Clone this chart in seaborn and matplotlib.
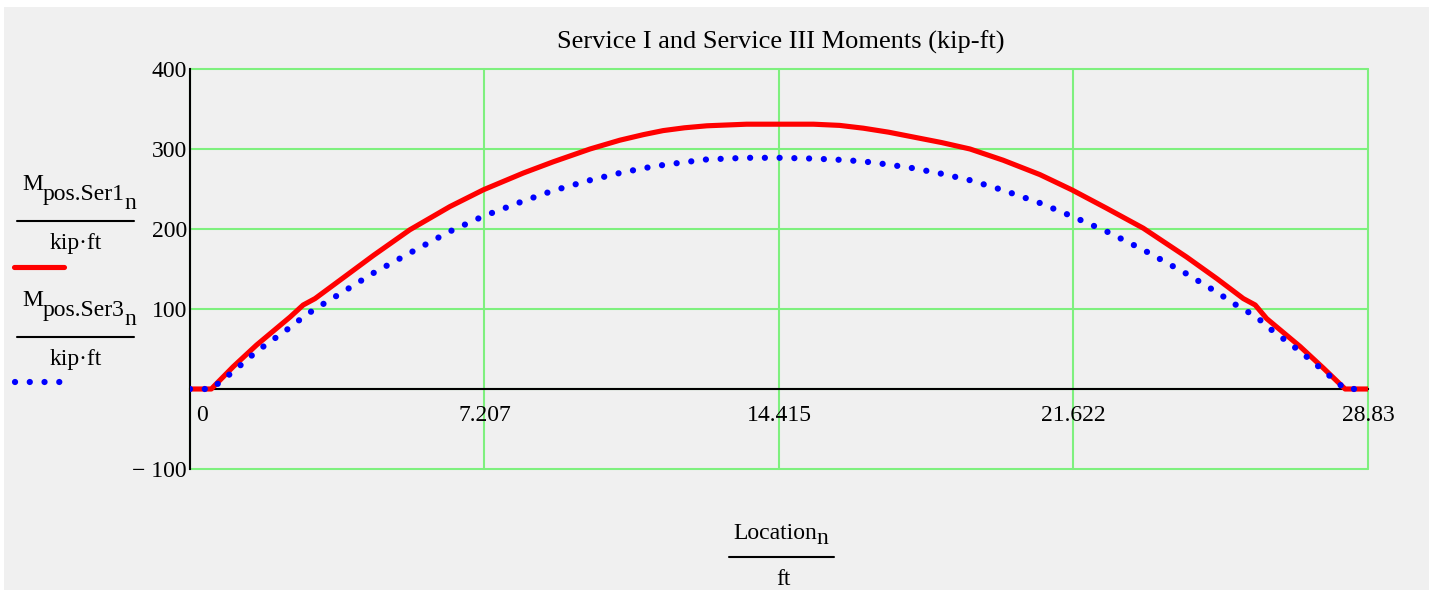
import pandas as pd
import seaborn as sns
import matplotlib.pyplot as plt
from matplotlib.lines import Line2D
from matplotlib.patches import Rectangle
from matplotlib.transforms import ScaledTranslation

# === data (ft, kip-ft) ===
location = [0, 0.52, 1.06, 1.63, 2.45, 2.77, 3.06, 3.67, 4.49, 5.38,
            6.36, 7.18, 8.16, 8.89, 9.79, 10.52, 11.10, 11.58, 12.10, 12.65,
            13.62, 14.415, 15.26, 15.90, 16.48, 17.10, 17.70, 18.40, 19.09, 19.90,
            20.80, 21.58, 22.43, 23.33, 24.39, 25.13, 25.78, 26.07, 26.35, 27.17,
            27.74, 28.27, 28.83]
m_ser1 = [0, 0, 28, 55, 90, 105, 113, 136, 167, 199,
          228, 249, 270, 284, 300, 311, 318, 323, 326.5, 329,
          331, 331, 331, 329.5, 326, 321, 315, 308, 300, 286,
          268, 249, 226, 201, 165, 138, 113, 105, 88, 53,
          26, 0, 0]
m_ser3 = [0, 0, 22, 47, 77, 90, 100, 119, 145, 170,
          197, 216, 235, 248, 261, 270, 276, 280, 283.5, 287,
          289, 289, 288, 286.5, 284.5, 280.5, 276, 269, 261, 248.5,
          232.5, 216, 197, 174, 144, 121, 99, 92, 78.5, 47,
          23, 0, 0]

x_ticks = [0, 7.207, 14.415, 21.622, 28.83]
x_tick_labels = ["0", "7.207", "14.415", "21.622", "28.83"]
y_ticks = [-100, 0, 100, 200, 300, 400]
y_tick_labels = ["\u2212 100", "", "100", "200", "300", "400"]

df = pd.DataFrame({"Location": location, "Ser1": m_ser1, "Ser3": m_ser3})

# === style ===
sns.set_theme(style="white")
plt.rcParams["font.family"] = ["Liberation Serif", "DejaVu Serif"]
plt.rcParams["text.color"] = "black"
FS = 17
W, H = 1429, 590
GRID = "#7ef07e"
DOTS = (0, (0.01, 2.35))


def fx(px):
    return px / W


def fy(py):
    return 1 - py / H


fig = plt.figure(figsize=(W / 100, H / 100), dpi=100, facecolor="white")
fig.add_artist(Rectangle((fx(4), 0), 1 - fx(4), fy(7), transform=fig.transFigure,
                         facecolor="#f0f0f0", edgecolor="none", zorder=-10))
ax = fig.add_axes([fx(190), fy(469), fx(1368) - fx(190), fy(69) - fy(469)])
ax.patch.set_visible(False)

sns.lineplot(data=df, x="Location", y="Ser1", color="#ff0000", linewidth=3.7,
             solid_capstyle="butt", solid_joinstyle="round", ax=ax, zorder=3)
sns.lineplot(data=df, x="Location", y="Ser3", color="#0000ff", linewidth=4.5,
             linestyle=DOTS, dash_capstyle="round", ax=ax, zorder=4)

ax.set_xlim(0, 28.83)
ax.set_ylim(-100, 400)
ax.set_xlabel("")
ax.set_ylabel("")
ax.set_xticks(x_ticks, labels=x_tick_labels)
ax.set_yticks(y_ticks, labels=y_tick_labels)

ax.spines["bottom"].set_position(("data", 0))
ax.spines[["top", "right"]].set_visible(False)
for s in ["left", "bottom"]:
    ax.spines[s].set_color("black")
    ax.spines[s].set_linewidth(1.5)
ax.tick_params(direction="inout", length=8.6, width=1.5, color="black",
               labelsize=FS, labelcolor="black")
ax.tick_params(axis="x", pad=7)
ax.tick_params(axis="y", pad=-2)

ax.grid(True, color=GRID, linewidth=1.5)
for gl in ax.get_xgridlines() + ax.get_ygridlines():
    gl.set_clip_on(False)

# title
fig.text(fx(781), fy(49), "Service I and Service III Moments (kip-ft)",
         ha="center", va="baseline", fontsize=19, color="black")


def sub(prev, s, y_px):
    return ax.annotate(s, xy=(1, H - y_px), xycoords=(prev, "figure pixels"),
                       ha="left", va="baseline", fontsize=FS, color="black")


# y "legend" blocks
for dy, name, color, style in [(0, "pos.Ser1", "#ff0000", "-"),
                               (116, "pos.Ser3", "#0000ff", DOTS)]:
    t = fig.text(fx(22), fy(190 + dy), "M", ha="left", va="baseline", fontsize=FS)
    t = sub(t, name, 200 + dy)
    sub(t, "n", 209 + dy)
    fig.add_artist(Line2D([fx(17), fx(134)], [fy(220.7 + dy)] * 2,
                          color="black", lw=1.5))
    fig.text(fx(76), fy(249 + dy), "kip\u00b7ft", ha="center", va="baseline",
             fontsize=FS)
    if style == "-":
        fig.add_artist(Line2D([fx(14), fx(64)], [fy(266.7)] * 2, color=color,
                              lw=3.7, solid_capstyle="round"))
    else:
        fig.add_artist(Line2D([fx(15), fx(61)], [fy(382)] * 2, color=color,
                              lw=4.5, linestyle=style, dash_capstyle="round"))

# x label
t = fig.text(fx(733), fy(539), "Location", ha="left", va="baseline", fontsize=FS)
sub(t, "n", 544)
fig.add_artist(Line2D([fx(729), fx(834)], [fy(557)] * 2, color="black", lw=1.5))
fig.text(fx(783), fy(585), "ft", ha="center", va="baseline", fontsize=FS)

# shift the "0" label off the y axis like the original
lab0 = ax.get_xticklabels()[0]
lab0.set_transform(lab0.get_transform() + ScaledTranslation(0.12, 0, fig.dpi_scale_trans))

fig.savefig("out.png", dpi=100)
